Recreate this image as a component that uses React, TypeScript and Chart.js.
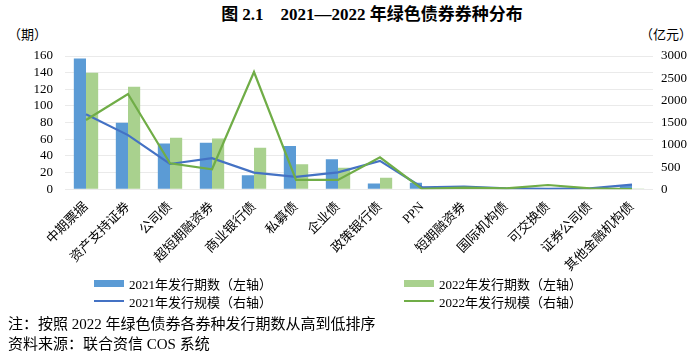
import React, { useEffect, useRef } from "react";
import { Chart, registerables } from "chart.js";

Chart.register(...registerables);

const categories = ["中期票据", "资产支持证券", "公司债", "超短期融资券", "商业银行债", "私募债", "企业债", "政策银行债", "PPN", "短期融资券", "国际机构债", "可交换债", "证券公司债", "其他金融机构债"];
const count2021 = [157, 80, 55, 56, 17, 52, 36, 7, 8, 4, 1, 0, 1, 5];
const count2022 = [140, 123, 62, 61, 50, 30, 26, 14, 2, 1, 1, 1, 1, 1];
const scale2021 = [1690, 1220, 570, 700, 375, 280, 380, 640, 45, 58, 20, 10, 20, 105];
const scale2022 = [1560, 2145, 585, 450, 2640, 210, 210, 720, 10, 36, 20, 97, 20, 5];
const leftTicks = [0, 20, 40, 60, 80, 100, 120, 140, 160];
const rightTicks = [0, 500, 1000, 1500, 2000, 2500, 3000];

const FONT = "'Times New Roman', 'Liberation Serif', 'Noto Sans CJK SC', serif";
const BLUE_BAR = "#5B9BD5";
const GREEN_BAR = "#A9D18E";
const BLUE_LINE = "#4472C4";
const GREEN_LINE = "#70AD47";

export default function App() {
  const ref = useRef<HTMLCanvasElement>(null);
  useEffect(() => {
    if (!ref.current) return;
    const chart = new Chart(ref.current, {
      type: "bar",
      data: {
        labels: categories,
        datasets: [
          { type: "bar", label: "2021年发行期数（左轴）", data: count2021, backgroundColor: BLUE_BAR, yAxisID: "y", order: 2, categoryPercentage: 0.58, barPercentage: 1 },
          { type: "bar", label: "2022年发行期数（左轴）", data: count2022, backgroundColor: GREEN_BAR, yAxisID: "y", order: 2, categoryPercentage: 0.58, barPercentage: 1 },
          { type: "line", label: "2021年发行规模（右轴）", data: scale2021, borderColor: BLUE_LINE, backgroundColor: BLUE_LINE, borderWidth: 2.2, pointRadius: 0, tension: 0, yAxisID: "y1", order: 1 },
          { type: "line", label: "2022年发行规模（右轴）", data: scale2022, borderColor: GREEN_LINE, backgroundColor: GREEN_LINE, borderWidth: 2.2, pointRadius: 0, tension: 0, yAxisID: "y1", order: 0 },
        ] as any,
      },
      options: {
        animation: false,
        responsive: false,
        devicePixelRatio: 1,
        layout: { padding: { top: 56, left: 0, right: 0, bottom: 0 } },
        plugins: { legend: { display: false }, title: { display: false }, tooltip: { enabled: false } },
        scales: {
          x: {
            grid: { display: false },
            border: { display: false },
            ticks: { autoSkip: false, maxRotation: 45, minRotation: 45, padding: 2, color: "#000", font: { family: FONT, size: 13 } },
            afterFit: (s: any) => { s.height = 280 - 189.3; },
          },
          y: {
            position: "left",
            min: 0,
            max: 160,
            afterBuildTicks: (s: any) => { s.ticks = leftTicks.map((v) => ({ value: v })); },
            grid: { color: "#EAEAEA", lineWidth: 1, drawTicks: false },
            border: { display: false },
            ticks: { autoSkip: false, padding: 12, color: "#000", font: { family: FONT, size: 13 }, callback: (v: any) => String(v) },
            afterFit: (s: any) => { s.width = 65; },
          },
          y1: {
            position: "right",
            min: 0,
            max: 3000,
            afterBuildTicks: (s: any) => { s.ticks = rightTicks.map((v) => ({ value: v })); },
            grid: { display: false, drawTicks: false },
            border: { display: false },
            ticks: { autoSkip: false, padding: 8, color: "#000", font: { family: FONT, size: 13 }, callback: (v: any) => String(v) },
            afterFit: (s: any) => { s.width = 47; },
          },
        },
      } as any,
    });
    return () => chart.destroy();
  }, []);

  const legendItems = [
    { label: "2021年发行期数（左轴）", color: BLUE_BAR, bar: true, x: 94, y: 283 },
    { label: "2022年发行期数（左轴）", color: GREEN_BAR, bar: true, x: 404, y: 283 },
    { label: "2021年发行规模（右轴）", color: BLUE_LINE, bar: false, x: 94, y: 301 },
    { label: "2022年发行规模（右轴）", color: GREEN_LINE, bar: false, x: 404, y: 301 },
  ];

  const textBase: React.CSSProperties = { position: "absolute", fontFamily: FONT, color: "#000", whiteSpace: "nowrap", lineHeight: 1 };

  return (
    <div style={{ position: "absolute", left: 0, top: 0, width: 700, height: 354, background: "#fff", overflow: "hidden" }}>
      <div style={{ ...textBase, left: 0, width: 744, top: 6, textAlign: "center", fontSize: 17, fontWeight: "bold" }}>
        图 2.1&nbsp;&nbsp;&nbsp;&nbsp;2021—2022 年绿色债券券种分布
      </div>
      <div style={{ ...textBase, left: 8, top: 28, fontSize: 13 }}>（期）</div>
      <div style={{ ...textBase, left: 640, top: 28, fontSize: 13 }}>（亿元）</div>
      <canvas ref={ref} width={700} height={280} style={{ position: "absolute", left: 0, top: 0, width: 700, height: 280 }} />
      {legendItems.map((it) => (
        <div key={it.label} style={{ position: "absolute", left: it.x, top: it.y - 8, height: 16, display: "flex", alignItems: "center" }}>
          <span style={{ display: "inline-block", width: 30, height: it.bar ? 7 : 2, background: it.color, marginRight: 5 }} />
          <span style={{ fontFamily: FONT, fontSize: 13, color: "#000", whiteSpace: "nowrap" }}>{it.label}</span>
        </div>
      ))}
      <div style={{ ...textBase, left: 8, top: 317, fontSize: 15 }}>注：按照 2022 年绿色债券各券种发行期数从高到低排序</div>
      <div style={{ ...textBase, left: 8, top: 337, fontSize: 15 }}>资料来源：联合资信 COS 系统</div>
    </div>
  );
}
